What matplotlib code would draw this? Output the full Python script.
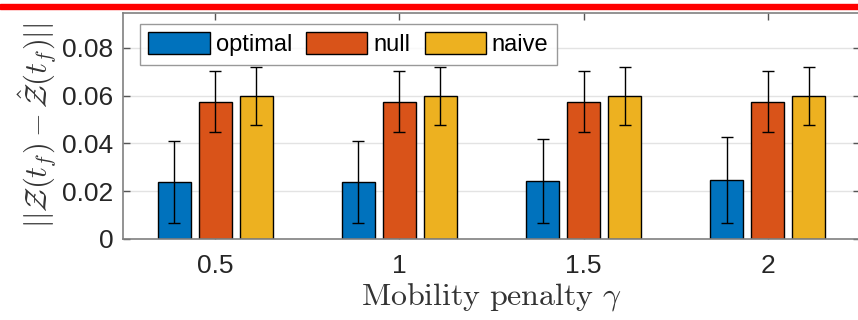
import numpy as np
import matplotlib
matplotlib.use('Agg')
from matplotlib import pyplot as plt
from matplotlib.patches import Rectangle

# data
gammas = ['0.5', '1', '1.5', '2']
series = ['optimal', 'null', 'naive']
optimal = [0.0239, 0.0239, 0.0242, 0.0247]
optimal_err = [0.0170, 0.0171, 0.0176, 0.0180]
null = [0.0574, 0.0574, 0.0574, 0.0574]
null_err = [0.0128, 0.0128, 0.0128, 0.0128]
naive = [0.0598, 0.0598, 0.0598, 0.0598]
naive_err = [0.0123, 0.0123, 0.0123, 0.0123]

colors = ['#0072BD', '#D95319', '#EDB120']

plt.rcParams['font.family'] = ['Liberation Sans', 'DejaVu Sans']
plt.rcParams['mathtext.fontset'] = 'cm'

fig = plt.figure(figsize=(8.58, 3.2), dpi=100)
ax = fig.add_axes([123/858, 1-239/320, (860-123)/858, (239-12.7)/320])

x = np.arange(1, len(gammas)+1)
offs = 0.222
w = 0.179
vals = [optimal, null, naive]
errs = [optimal_err, null_err, naive_err]
for k in range(3):
    xs = x + (k-1)*offs
    ax.bar(xs, vals[k], width=w, color=colors[k], edgecolor='black',
           linewidth=1, label=series[k], zorder=2)
    ax.errorbar(xs, vals[k], yerr=errs[k], fmt='none', ecolor='black',
                elinewidth=1, capsize=6.3*0.72, capthick=1, zorder=3)

ax.set_xlim(0.5, 4.5)
ax.set_ylim(0, 0.0947)
ax.set_xticks(x)
ax.set_xticklabels(gammas)
ax.set_yticks([0, 0.02, 0.04, 0.06, 0.08])
ax.set_yticklabels(['0', '0.02', '0.04', '0.06', '0.08'])
ax.tick_params(direction='in', length=5, width=1, color='#555555',
               labelsize=19, labelcolor='#262626', top=True, right=True, pad=7)
ax.tick_params(axis='x', pad=11)
for s in ax.spines.values():
    s.set_color('#808080')
    s.set_linewidth(1.2)
ax.yaxis.grid(True, color='#e3e3e3', linewidth=1, zorder=0)
ax.set_axisbelow(True)

ax.set_ylabel(r'$||\mathcal{Z}(t_f) - \hat{\mathcal{Z}}(t_f)||$', fontsize=22,
              labelpad=2, color='#333333')
ax.set_xlabel(r'$\mathrm{Mobility\ penalty}\ \gamma$', fontsize=23, labelpad=2,
              color='#333333')

leg = ax.legend(loc='upper left', bbox_to_anchor=((140-123)/737, 1-(24-12.7)/226),
                borderaxespad=0, ncol=3, fontsize=17, frameon=True,
                fancybox=False, edgecolor='#808080', handlelength=2.6,
                handleheight=1.05, handletextpad=0.25, columnspacing=0.6,
                borderpad=0.35)
leg.get_frame().set_linewidth(1)

# red strip across the top
fig.patches.append(Rectangle((0, 1-9.3/320), 1, 5.3/320, transform=fig.transFigure,
                             color='red', zorder=10))

fig.savefig('out.png', dpi=100)
